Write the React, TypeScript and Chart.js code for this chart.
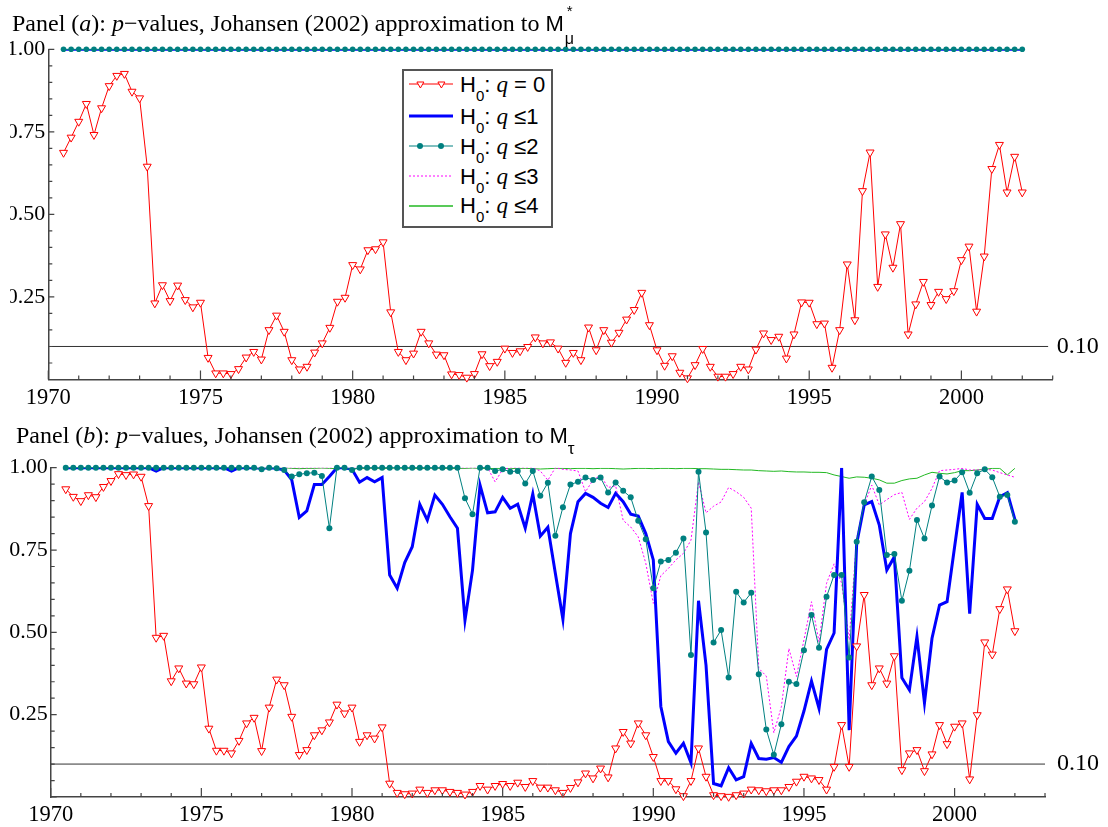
import React, { useEffect, useRef } from 'react';
import { Chart, registerables } from 'chart.js';

Chart.register(...registerables);

// ---------- categories (quarterly dates, 1970Q3 .. 2002Q1) ----------
const FIRST_QUARTER = 1970.5;
const QUARTER_COUNT = 127;
const quarterDates: number[] = Array.from({ length: QUARTER_COUNT }, (_, i) => FIRST_QUARTER + i * 0.25);

// ---------- axis tick labels ----------
const xTickYears = [1970, 1975, 1980, 1985, 1990, 1995, 2000];
const yTickLabels = [0.25, 0.5, 0.75, 1.0];
const threshold = 0.1;

// ---------- Panel (a) ----------
const panelA_q0 = [
  0.687, 0.733, 0.781, 0.835, 0.741, 0.822, 0.889, 0.920, 0.926, 0.872,
  0.852, 0.645, 0.231, 0.286, 0.238, 0.285, 0.241, 0.219, 0.233, 0.066,
  0.019, 0.019, 0.017, 0.032, 0.067, 0.084, 0.061, 0.150, 0.194, 0.145,
  0.059, 0.031, 0.039, 0.082, 0.110, 0.157, 0.236, 0.248, 0.347, 0.334,
  0.392, 0.395, 0.416, 0.204, 0.084, 0.059, 0.079, 0.145, 0.110, 0.076,
  0.074, 0.016, 0.014, 0.006, 0.017, 0.077, 0.041, 0.054, 0.094, 0.081,
  0.086, 0.099, 0.128, 0.110, 0.113, 0.094, 0.051, 0.081, 0.059, 0.158,
  0.089, 0.150, 0.112, 0.142, 0.182, 0.211, 0.263, 0.165, 0.089, 0.042,
  0.071, 0.021, 0.004, 0.044, 0.093, 0.039, 0.009, 0.009, 0.017, 0.039,
  0.031, 0.091, 0.140, 0.120, 0.130, 0.064, 0.137, 0.234, 0.233, 0.168,
  0.170, 0.036, 0.150, 0.349, 0.180, 0.571, 0.688, 0.281, 0.440, 0.339,
  0.471, 0.137, 0.228, 0.296, 0.226, 0.266, 0.244, 0.268, 0.362, 0.403,
  0.206, 0.373, 0.638, 0.711, 0.567, 0.675, 0.567,
];
// q<=1 .. q<=4 in panel (a) all sit at 1.00
const panelA_upper = [
  1, 1, 1, 1, 1, 1, 1, 1, 1, 1, 1, 1, 1, 1, 1, 1, 1, 1, 1, 1,
  1, 1, 1, 1, 1, 1, 1, 1, 1, 1, 1, 1, 1, 1, 1, 1, 1, 1, 1, 1,
  1, 1, 1, 1, 1, 1, 1, 1, 1, 1, 1, 1, 1, 1, 1, 1, 1, 1, 1, 1,
  1, 1, 1, 1, 1, 1, 1, 1, 1, 1, 1, 1, 1, 1, 1, 1, 1, 1, 1, 1,
  1, 1, 1, 1, 1, 1, 1, 1, 1, 1, 1, 1, 1, 1, 1, 1, 1, 1, 1, 1,
  1, 1, 1, 1, 1, 1, 1, 1, 1, 1, 1, 1, 1, 1, 1, 1, 1, 1, 1, 1,
  1, 1, 1, 1, 1, 1, 1,
];

// ---------- Panel (b) ----------
const panelB_q0 = [
  0.935, 0.912, 0.899, 0.917, 0.911, 0.942, 0.960, 0.981, 0.978, 0.980,
  0.973, 0.884, 0.484, 0.490, 0.352, 0.391, 0.345, 0.343, 0.394, 0.208,
  0.141, 0.141, 0.133, 0.171, 0.224, 0.241, 0.140, 0.272, 0.357, 0.340,
  0.244, 0.128, 0.143, 0.188, 0.203, 0.227, 0.281, 0.254, 0.272, 0.168,
  0.188, 0.178, 0.212, 0.041, 0.013, 0.009, 0.011, 0.023, 0.013, 0.021,
  0.021, 0.016, 0.013, 0.008, 0.016, 0.034, 0.023, 0.034, 0.040, 0.034,
  0.044, 0.031, 0.049, 0.029, 0.029, 0.021, 0.013, 0.028, 0.045, 0.072,
  0.057, 0.087, 0.060, 0.148, 0.198, 0.163, 0.224, 0.188, 0.122, 0.049,
  0.049, 0.024, 0.003, 0.049, 0.148, 0.062, 0.006, 0.003, 0.001, 0.006,
  0.011, 0.023, 0.021, 0.018, 0.021, 0.021, 0.031, 0.047, 0.062, 0.057,
  0.052, 0.023, 0.092, 0.219, 0.092, 0.458, 0.614, 0.340, 0.391, 0.345,
  0.428, 0.082, 0.133, 0.143, 0.079, 0.130, 0.219, 0.161, 0.214, 0.224,
  0.054, 0.249, 0.470, 0.433, 0.571, 0.631, 0.504,
];
const panelB_q1 = [
  1, 1, 1, 1, 1, 1, 1, 1, 1, 1,
  1, 1, 0.99, 1, 1, 1, 1, 1, 1, 1,
  1, 1, 0.99, 1, 1, 1, 0.998, 1, 0.998, 0.993,
  0.963, 0.849, 0.869, 0.949, 0.949, 0.973, 1, 1, 0.995, 0.956,
  0.970, 0.957, 0.970, 0.674, 0.634, 0.712, 0.760, 0.889, 0.841, 0.917,
  0.889, 0.851, 0.816, 0.537, 0.689, 0.947, 0.863, 0.866, 0.910, 0.877,
  0.889, 0.816, 0.920, 0.792, 0.819, 0.679, 0.540, 0.800, 0.897, 0.922,
  0.910, 0.892, 0.879, 0.922, 0.897, 0.859, 0.853, 0.800, 0.720, 0.275,
  0.168, 0.133, 0.163, 0.104, 0.596, 0.400, 0.041, 0.034, 0.089, 0.052,
  0.062, 0.163, 0.117, 0.115, 0.120, 0.105, 0.153, 0.185, 0.261, 0.352,
  0.269, 0.448, 0.498, 1.000, 0.203, 0.770, 0.887, 0.897, 0.826, 0.689,
  0.729, 0.362, 0.325, 0.487, 0.286, 0.482, 0.583, 0.593, 0.760, 0.925,
  0.557, 0.889, 0.846, 0.846, 0.912, 0.924, 0.843,
];
const panelB_q2 = [
  1, 1, 1, 1, 1, 1, 1, 1, 1, 1,
  1, 1, 1, 1, 1, 1, 1, 1, 1, 1,
  1, 1, 1, 1, 1, 1, 0.995, 1, 0.998, 0.993,
  0.973, 0.980, 0.983, 0.985, 0.975, 0.816, 1, 1, 0.993, 1,
  1, 1, 1, 1, 1, 1, 1, 1, 1, 1,
  1, 1, 1, 0.907, 0.859, 1, 1, 0.990, 0.995, 0.988,
  0.990, 0.952, 0.990, 0.915, 0.954, 0.793, 0.880, 0.949, 0.957, 0.970,
  0.963, 0.970, 0.925, 0.955, 0.930, 0.910, 0.839, 0.783, 0.634, 0.715,
  0.720, 0.742, 0.785, 0.431, 0.988, 0.803, 0.469, 0.507, 0.363, 0.623,
  0.591, 0.620, 0.373, 0.205, 0.128, 0.221, 0.350, 0.343, 0.446, 0.553,
  0.453, 0.608, 0.674, 0.674, 0.424, 0.775, 0.895, 0.973, 0.932, 0.735,
  0.738, 0.596, 0.687, 0.841, 0.785, 0.885, 0.973, 0.955, 0.961, 0.986,
  0.924, 0.983, 0.995, 0.971, 0.912, 0.917, 0.836,
];
const panelB_q3 = [
  1, 1, 1, 1, 1, 1, 1, 1, 1, 1,
  1, 1, 1, 1, 1, 1, 1, 1, 1, 1,
  1, 1, 1, 1, 1, 1, 1, 1, 1, 1,
  1, 1, 1, 1, 1, 1, 1, 1, 1, 1,
  1, 1, 1, 1, 1, 1, 1, 1, 1, 1,
  1, 1, 1, 1, 1, 1, 1, 0.957, 0.995, 1,
  1, 1, 1, 0.990, 0.962, 1, 0.995, 0.993, 0.990, 0.927,
  0.963, 0.976, 0.940, 0.945, 0.840, 0.820, 0.790, 0.710, 0.588, 0.672,
  0.694, 0.720, 0.740, 0.780, 0.957, 0.863, 0.883, 0.896, 0.940, 0.927,
  0.910, 0.877, 0.391, 0.367, 0.195, 0.274, 0.451, 0.366, 0.477, 0.593,
  0.471, 0.649, 0.708, 0.649, 0.477, 0.785, 0.887, 0.947, 0.887, 0.903,
  0.918, 0.925, 0.843, 0.877, 0.897, 0.937, 0.991, 0.993, 0.995, 0.998,
  0.993, 0.993, 0.995, 0.993, 0.985, 0.978, 0.971,
];
const panelB_q4 = [
  1, 1, 1, 1, 1, 1, 1, 1, 1, 1,
  1, 1, 1, 1, 1, 1, 1, 1, 1, 1,
  1, 1, 1, 1, 1, 1, 1, 1, 1, 1,
  0.998, 0.997, 0.998, 0.998, 0.999, 0.998, 0.997, 0.998, 0.998, 0.997,
  0.998, 0.998, 0.997, 0.998, 0.999, 0.998, 0.998, 0.997, 0.998, 0.998,
  0.998, 0.997, 0.998, 0.998, 0.999, 0.998, 0.997, 0.998, 0.998, 0.997,
  0.998, 0.998, 0.997, 0.996, 0.997, 0.998, 0.998, 0.997, 0.998, 0.998,
  0.997, 0.998, 0.998, 0.997, 0.996, 0.997, 0.998, 0.998, 0.997, 0.998,
  0.998, 0.997, 0.998, 0.998, 0.997, 0.997, 0.996, 0.995, 0.995, 0.994,
  0.993, 0.993, 0.991, 0.990, 0.989, 0.990, 0.988, 0.987, 0.987, 0.986,
  0.986, 0.985, 0.978, 0.973, 0.968, 0.972, 0.971, 0.968, 0.963, 0.953,
  0.953, 0.961, 0.966, 0.968, 0.978, 0.986, 0.983, 0.981, 0.985, 0.991,
  0.991, 0.993, 0.995, 0.998, 0.998, 0.978, 0.998,
];

// ---------- styling ----------
const RED = '#ff0000';
const BLUE = '#0000ff';
const TEAL = '#008080';
const MAGENTA = '#ff00ff';
const GREEN = '#22b822';
const AXIS = '#444444';
const SERIF = '"Liberation Serif", "Times New Roman", serif';
const SANS = '"Liberation Sans", Arial, sans-serif';

const toXY = (vals: number[]) => vals.map((v, i) => ({ x: quarterDates[i], y: v }));

const innerTicks = {
  id: 'innerTicks',
  afterDraw(chart: any) {
    const { ctx, chartArea } = chart;
    const xs = chart.scales.x;
    const ys = chart.scales.y;
    ctx.save();
    ctx.strokeStyle = AXIS;
    ctx.lineWidth = 1.2;
    ctx.beginPath();
    xs.ticks.forEach((t: any) => {
      const px = xs.getPixelForValue(t.value);
      const len = Math.round(t.value) % 5 === 0 ? 9 : 4;
      ctx.moveTo(px, chartArea.bottom);
      ctx.lineTo(px, chartArea.bottom - len);
    });
    ys.ticks.forEach((t: any) => {
      const py = ys.getPixelForValue(t.value);
      const k = Math.round(t.value * 100);
      const len = k % 25 === 0 ? 6 : 4;
      ctx.moveTo(chartArea.left, py);
      ctx.lineTo(chartArea.left + len, py);
    });
    ctx.stroke();
    ctx.restore();
  },
};

type PanelCfg = {
  q0: number[]; q1: number[]; q2: number[]; q3: number[]; q4: number[];
  padTop: number; xH: number; yW: number; rW: number; rPad: number; xPad: number;
  thrEnd: number; dotR: number;
};

function buildConfig(c: PanelCfg): any {
  return {
    type: 'line',
    data: {
      datasets: [
        {
          label: 'H0: q = 0', data: toXY(c.q0), order: 0, clip: false,
          borderColor: RED, borderWidth: 1, pointStyle: 'triangle', pointRotation: 180,
          pointRadius: 4.6, pointBackgroundColor: '#ffffff', pointBorderColor: RED, pointBorderWidth: 1,
        },
        {
          label: 'H0: q <= 2', data: toXY(c.q2), order: 1, clip: false,
          borderColor: TEAL, borderWidth: 1, pointStyle: 'circle', pointRadius: c.dotR,
          pointBackgroundColor: TEAL, pointBorderColor: TEAL, pointBorderWidth: 0,
        },
        {
          label: 'H0: q <= 1', data: toXY(c.q1), order: 2,
          borderColor: BLUE, borderWidth: 3, pointRadius: 0,
        },
        {
          label: 'H0: q <= 3', data: toXY(c.q3), order: 3,
          borderColor: MAGENTA, borderWidth: 1, borderDash: [2, 2], pointRadius: 0,
        },
        {
          label: 'H0: q <= 4', data: toXY(c.q4), order: 4,
          borderColor: GREEN, borderWidth: 1, pointRadius: 0,
        },
        {
          label: 'threshold', data: [{ x: 1970, y: threshold }, { x: c.thrEnd, y: threshold }], order: 5,
          borderColor: '#333333', borderWidth: 1, pointRadius: 0,
        },
      ],
    },
    options: {
      animation: false,
      responsive: false,
      maintainAspectRatio: false,
      events: [],
      layout: { padding: { top: c.padTop, bottom: 0, left: 0, right: 0 } },
      elements: { line: { tension: 0 } },
      plugins: { legend: { display: false }, tooltip: { enabled: false }, title: { display: false } },
      scales: {
        x: {
          type: 'linear', min: 1970, max: 2003, position: 'bottom',
          afterFit: (s: any) => { s.height = c.xH; },
          grid: { display: false, drawTicks: false },
          border: { display: true, color: AXIS, width: 1.5 },
          ticks: {
            stepSize: 1, autoSkip: false, maxRotation: 0, minRotation: 0, padding: c.xPad,
            color: '#000', font: { family: SERIF, size: 22.5 },
            callback: (v: any) => (xTickYears.includes(Number(v)) ? String(v) : ''),
          },
        },
        y: {
          type: 'linear', min: 0, max: 1, position: 'left',
          afterFit: (s: any) => { s.width = c.yW; },
          grid: { display: false, drawTicks: false },
          border: { display: true, color: AXIS, width: 1.5 },
          ticks: {
            stepSize: 0.05, autoSkip: false, padding: 3, color: '#000', font: { family: SERIF, size: 22 },
            callback: (v: any) => {
              const hit = yTickLabels.find((t) => Math.abs(t - Number(v)) < 1e-6);
              return hit !== undefined ? hit.toFixed(2) : '';
            },
          },
        },
        y2: {
          type: 'linear', min: 0, max: 1, position: 'right',
          afterFit: (s: any) => { s.width = c.rW; },
          afterBuildTicks: (s: any) => { s.ticks = [{ value: threshold }]; },
          grid: { display: false, drawTicks: false },
          border: { display: false },
          ticks: {
            padding: c.rPad, color: '#000', font: { family: SERIF, size: 24 },
            callback: () => threshold.toFixed(2),
          },
        },
      },
    },
    plugins: [innerTicks],
  };
}

function Panel({ cfg, top, height }: { cfg: PanelCfg; top: number; height: number }) {
  const ref = useRef<HTMLCanvasElement | null>(null);
  useEffect(() => {
    if (!ref.current) return;
    const chart = new Chart(ref.current, buildConfig(cfg));
    return () => chart.destroy();
  }, []);
  return (
    <canvas
      ref={ref}
      width={1098}
      height={height}
      style={{ position: 'absolute', left: 10, top, width: 1098, height }}
    />
  );
}

const titleStyle: React.CSSProperties = {
  position: 'absolute', fontFamily: SERIF, fontSize: 24, lineHeight: '26px',
  whiteSpace: 'nowrap', color: '#000',
};

function Sample({ kind }: { kind: number }) {
  const w = 44;
  const y = 6;
  if (kind === 0) {
    const tri = (cx: number) => `${cx},${y + 4} ${cx - 3.5},${y - 2} ${cx + 3.5},${y - 2}`;
    return (
      <svg width={w} height={12}>
        <line x1={0} y1={y} x2={w} y2={y} stroke={RED} strokeWidth={1} />
        <polygon points={tri(11.4)} fill="#fff" stroke={RED} strokeWidth={1} />
        <polygon points={tri(32.4)} fill="#fff" stroke={RED} strokeWidth={1} />
      </svg>
    );
  }
  if (kind === 1) return (<svg width={w} height={12}><line x1={0} y1={y} x2={w} y2={y} stroke={BLUE} strokeWidth={3} /></svg>);
  if (kind === 2) return (
    <svg width={w} height={12}>
      <line x1={0} y1={y} x2={w} y2={y} stroke={TEAL} strokeWidth={1} />
      <circle cx={11} cy={y} r={3} fill={TEAL} />
      <circle cx={32} cy={y} r={3} fill={TEAL} />
    </svg>
  );
  if (kind === 3) return (<svg width={w} height={12}><line x1={0} y1={y} x2={w} y2={y} stroke={MAGENTA} strokeWidth={1} strokeDasharray="2 2" /></svg>);
  return (<svg width={w} height={12}><line x1={0} y1={y} x2={w} y2={y} stroke={GREEN} strokeWidth={1.5} /></svg>);
}

const legendItems = [' = 0', ' \u22641', ' \u22642', ' \u22643', ' \u22644'];
const legendRowCenters = [13.3, 45, 75, 105, 134.7];

function Legend() {
  return (
    <div style={{
      position: 'absolute', left: 402, top: 69, width: 151, height: 159, boxSizing: 'border-box',
      border: '2px solid #555', background: '#fff',
    }}>
      {legendItems.map((txt, i) => (
        <div key={i}>
          <div style={{ position: 'absolute', left: 5.3, top: legendRowCenters[i] - 6, height: 12, lineHeight: 0 }}>
            <Sample kind={i} />
          </div>
          <div style={{
            position: 'absolute', left: 56, top: legendRowCenters[i] - 12.5, fontFamily: SANS,
            fontSize: 22, lineHeight: '26px', whiteSpace: 'nowrap', color: '#000',
          }}>
            H<span style={{ fontSize: 15, position: 'relative', top: 9 }}>0</span>:{' '}
            <span style={{ fontFamily: SERIF, fontStyle: 'italic', fontSize: 23 }}>q</span>
            {txt}
          </div>
        </div>
      ))}
    </div>
  );
}

const panelA: PanelCfg = {
  q0: panelA_q0, q1: panelA_upper, q2: panelA_upper, q3: panelA_upper, q4: panelA_upper,
  padTop: 49.3, xH: 30.5, yW: 38.3, rW: 55.3, rPad: 4, xPad: 5, thrEnd: 2002.85, dotR: 2.8,
};
const panelB: PanelCfg = {
  q0: panelB_q0, q1: panelB_q1, q2: panelB_q2, q3: panelB_q3, q4: panelB_q4,
  padTop: 47.7, xH: 30, yW: 40.7, rW: 63, rPad: 12, xPad: 5, thrEnd: 2003, dotR: 3,
};

export default function App() {
  return (
    <div style={{ position: 'absolute', left: 0, top: 0, width: 1108, height: 827, background: '#fff', overflow: 'hidden' }}>
      <Panel cfg={panelA} top={0} height={410} />
      <Panel cfg={panelB} top={420} height={407} />
      <div style={{ ...titleStyle, left: 12, top: 10 }}>
        Panel (<i>a</i>): <i>p</i>{'\u2212'}values, Johansen (2002) approximation to{' '}
        <span style={{ fontFamily: SANS, fontSize: 22 }}>M</span>
        <span style={{ position: 'relative', display: 'inline-block', width: 12 }}>
          <span style={{ position: 'absolute', left: 3, top: -33, fontFamily: SANS, fontSize: 15 }}>*</span>
          <span style={{ position: 'absolute', left: 1, top: -5, fontFamily: SANS, fontSize: 16 }}>{'\u03bc'}</span>
        </span>
      </div>
      <div style={{ ...titleStyle, left: 16, top: 422 }}>
        Panel (<i>b</i>): <i>p</i>{'\u2212'}values, Johansen (2002) approximation to{' '}
        <span style={{ fontFamily: SANS, fontSize: 22 }}>M</span>
        <span style={{ fontFamily: SANS, fontSize: 17, position: 'relative', top: 11 }}>{'\u03c4'}</span>
      </div>
      <Legend />
    </div>
  );
}
